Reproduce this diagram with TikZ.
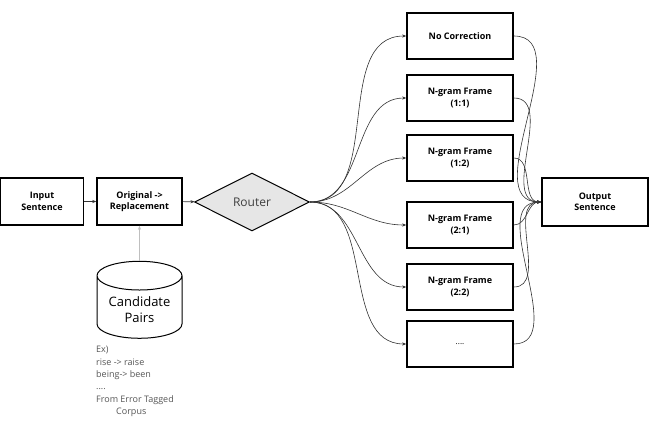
\documentclass[tikz,border=0pt]{standalone}
\usepackage{fontspec}
\setmainfont{Open Sans}
\usetikzlibrary{shapes.geometric,arrows.meta}
\definecolor{routerfill}{HTML}{E6E6E6}
\definecolor{linegray}{HTML}{333333}
\definecolor{notegray}{HTML}{555555}
\tikzset{
  procbox/.style={draw=black, line width=1.6pt, minimum width=#1, minimum height=47pt,
    inner sep=1pt, align=center, font=\fontsize{9}{11.5}\selectfont\bfseries},
  procbox/.default=85pt,
  tip/.style={-{Stealth[length=4pt,width=3.2pt]}},
  flow/.style={tip, draw=linegray, line width=0.6pt},
}
\begin{document}
\begin{tikzpicture}[x=1pt,y=-1pt]
\useasboundingbox (0,0) rectangle (655,422);

% left chain
\node[procbox=83pt] (in) at (42,201.5) {Input\\Sentence};
\node[procbox=85pt] (orig) at (139.5,201.5) {Original ->\\Replacement};
\node[diamond, draw=black, line width=1pt, fill=routerfill, minimum width=115pt,
  minimum height=58pt, inner sep=0pt, font=\fontsize{12}{14}\selectfont,
  text=black!75] (router) at (252,202) {Router};

% candidate store
\node[cylinder, shape border rotate=90, draw=black, line width=1pt, aspect=0.42,
  minimum width=85pt, minimum height=77pt, align=center,
  font=\fontsize{13}{16}\selectfont] (cyl) at (139.5,310) {Candidate\\Pairs};
\node[anchor=north west, align=left, inner sep=0pt, text=notegray,
  font=\fontsize{9}{12.4}\selectfont] (note) at (96,346)
  {Ex)\\rise -> raise\\being-> been\\....\\From Error Tagged\\\hspace*{20pt}Corpus};

% correction branches
\node[procbox=106pt, minimum height=46pt] (b1) at (460,36) {No Correction};
\node[procbox=106pt, minimum height=46pt] (b2) at (460,98) {N-gram Frame\\(1:1)};
\node[procbox=106pt, minimum height=46pt] (b3) at (460,158) {N-gram Frame\\(1:2)};
\node[procbox=106pt, minimum height=46pt] (b4) at (460,225) {N-gram Frame\\(2:1)};
\node[procbox=106pt, minimum height=46pt] (b5) at (460,287) {N-gram Frame\\(2:2)};
\node[procbox=106pt, minimum height=46pt, font=\fontsize{8}{10}\selectfont] (b6) at (460,344) {....};

\node[procbox=106pt, minimum height=48pt] (out) at (595,202) {Output\\Sentence};

% connectors
\draw[flow] (in) -- (orig);
\draw[flow] (orig) -- (router);
\draw[tip, draw=black!25, line width=0.8pt] (cyl.top) -- (orig.south);
\foreach \b in {b1,b2,b3,b4,b5,b6}{
  \draw[flow] (router.east) to[out=0,in=180] (\b.west);
  \draw[flow] (\b.east) to[out=0,in=180] (out.west);
}
\end{tikzpicture}
\end{document}
